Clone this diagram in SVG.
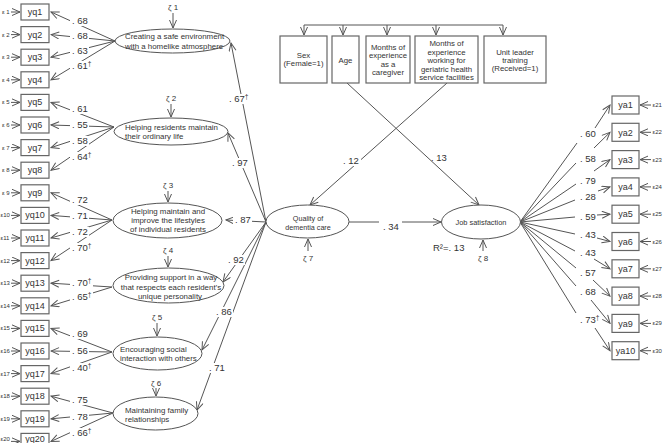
<svg xmlns="http://www.w3.org/2000/svg" width="665" height="443" viewBox="0 0 665 443">
<defs>
<marker id="ah" markerUnits="userSpaceOnUse" markerWidth="10" markerHeight="10" refX="9" refY="4" orient="auto"><path d="M1,0.5 L9,4 L1,7.5" fill="none" stroke="#555" stroke-width="1"/></marker>
<style>
text{font-family:"Liberation Sans",Arial,sans-serif;fill:#333}
.box{fill:#fff;stroke:#666;stroke-width:1.2}
.ell{fill:#fff;stroke:#555;stroke-width:1}
.c line{stroke:#555;stroke-width:1;fill:none}
.a{marker-end:url(#ah)}
.lb{font-size:9.5px}
.bg{fill:#fff}
.t8{font-size:7.9px}
.tm{font-size:7.8px;text-anchor:middle}
.v{font-size:9px;text-anchor:middle}
.e{font-size:6px}
.er{font-size:6px}
.z{font-size:8px;text-anchor:middle}
.m{text-anchor:middle}
.dg{font-size:6.5px}
</style>
</defs>
<rect width="665" height="443" fill="#fff"/>
<g id="connectors" class="c">
<line class="a" x1="115" y1="41" x2="51" y2="12"/>
<line class="a" x1="115" y1="41" x2="51" y2="34.6"/>
<line class="a" x1="115" y1="41" x2="51" y2="57.2"/>
<line class="a" x1="115" y1="41" x2="51" y2="79.8"/>
<line class="a" x1="114" y1="127" x2="51" y2="102.4"/>
<line class="a" x1="114" y1="127" x2="51" y2="125"/>
<line class="a" x1="114" y1="127" x2="51" y2="147.6"/>
<line class="a" x1="114" y1="127" x2="51" y2="170.2"/>
<line class="a" x1="112" y1="220" x2="51" y2="192.8"/>
<line class="a" x1="112" y1="220" x2="51" y2="215.4"/>
<line class="a" x1="112" y1="220" x2="51" y2="238"/>
<line class="a" x1="112" y1="220" x2="51" y2="260.6"/>
<line class="a" x1="112" y1="287" x2="51" y2="283.2"/>
<line class="a" x1="112" y1="287" x2="51" y2="305.8"/>
<line class="a" x1="112" y1="352" x2="51" y2="328.4"/>
<line class="a" x1="112" y1="352" x2="51" y2="351"/>
<line class="a" x1="112" y1="352" x2="51" y2="373.6"/>
<line class="a" x1="113" y1="413" x2="51" y2="396.2"/>
<line class="a" x1="113" y1="413" x2="51" y2="418.8"/>
<line class="a" x1="113" y1="413" x2="51" y2="441.4"/>
<line class="a" x1="11" y1="12" x2="20" y2="12"/>
<line class="a" x1="11" y1="34.6" x2="20" y2="34.6"/>
<line class="a" x1="11" y1="57.2" x2="20" y2="57.2"/>
<line class="a" x1="11" y1="79.8" x2="20" y2="79.8"/>
<line class="a" x1="11" y1="102.4" x2="20" y2="102.4"/>
<line class="a" x1="11" y1="125" x2="20" y2="125"/>
<line class="a" x1="11" y1="147.6" x2="20" y2="147.6"/>
<line class="a" x1="11" y1="170.2" x2="20" y2="170.2"/>
<line class="a" x1="11" y1="192.8" x2="20" y2="192.8"/>
<line class="a" x1="11" y1="215.4" x2="20" y2="215.4"/>
<line class="a" x1="11" y1="238" x2="20" y2="238"/>
<line class="a" x1="11" y1="260.6" x2="20" y2="260.6"/>
<line class="a" x1="11" y1="283.2" x2="20" y2="283.2"/>
<line class="a" x1="11" y1="305.8" x2="20" y2="305.8"/>
<line class="a" x1="11" y1="328.4" x2="20" y2="328.4"/>
<line class="a" x1="11" y1="351" x2="20" y2="351"/>
<line class="a" x1="11" y1="373.6" x2="20" y2="373.6"/>
<line class="a" x1="11" y1="396.2" x2="20" y2="396.2"/>
<line class="a" x1="11" y1="418.8" x2="20" y2="418.8"/>
<line class="a" x1="11" y1="441.4" x2="20" y2="441.4"/>
<line class="a" x1="173" y1="13" x2="173" y2="28"/>
<line class="a" x1="171" y1="104" x2="171" y2="117"/>
<line class="a" x1="168" y1="191" x2="168" y2="202"/>
<line class="a" x1="168" y1="256" x2="168" y2="267"/>
<line class="a" x1="157" y1="323" x2="157" y2="336"/>
<line class="a" x1="156" y1="388" x2="156" y2="396"/>
<line class="a" x1="308" y1="251" x2="308" y2="239"/>
<line class="a" x1="483" y1="251" x2="483" y2="240"/>
<line class="a" x1="266" y1="222" x2="231" y2="43"/>
<line class="a" x1="266" y1="222" x2="228" y2="133"/>
<line class="a" x1="266" y1="222" x2="226" y2="220"/>
<line class="a" x1="266" y1="222" x2="223" y2="282"/>
<line class="a" x1="266" y1="222" x2="202" y2="350"/>
<line class="a" x1="266" y1="222" x2="197" y2="410"/>
<line x1="304" y1="25" x2="503" y2="25"/>
<line class="a" x1="304" y1="25" x2="304" y2="35"/>
<line class="a" x1="343" y1="25" x2="343" y2="35"/>
<line class="a" x1="387" y1="25" x2="387" y2="35"/>
<line class="a" x1="436" y1="25" x2="436" y2="35"/>
<line class="a" x1="503" y1="25" x2="503" y2="35"/>
<line class="a" x1="347" y1="83" x2="479" y2="205"/>
<line class="a" x1="447" y1="83" x2="310" y2="205"/>
<line class="a" x1="349" y1="222" x2="441" y2="222"/>
<line x1="520" y1="222" x2="577" y2="143"/><line class="a" x1="595" y1="128" x2="610" y2="105"/>
<line x1="520" y1="222" x2="576" y2="163"/><line class="a" x1="594" y1="148" x2="610" y2="132.3"/>
<line x1="520" y1="222" x2="576" y2="184"/><line class="a" x1="594" y1="171" x2="610" y2="159.6"/>
<line x1="520" y1="222" x2="575" y2="200"/><line class="a" x1="598" y1="191" x2="610" y2="186.9"/>
<line x1="520" y1="222" x2="575" y2="217"/><line class="a" x1="597" y1="215" x2="610" y2="214.2"/>
<line x1="520" y1="222" x2="575" y2="234"/><line class="a" x1="597" y1="238" x2="610" y2="241.5"/>
<line x1="520" y1="222" x2="575" y2="251"/><line class="a" x1="594" y1="259" x2="610" y2="268.8"/>
<line x1="520" y1="222" x2="576" y2="268"/><line class="a" x1="593" y1="280" x2="610" y2="296.1"/>
<line x1="520" y1="222" x2="576" y2="286"/><line class="a" x1="591" y1="300" x2="610" y2="323.4"/>
<line x1="520" y1="222" x2="576" y2="313"/><line class="a" x1="595" y1="328" x2="610" y2="350.7"/>
<line class="a" x1="651" y1="105" x2="640" y2="105"/>
<line class="a" x1="651" y1="132.3" x2="640" y2="132.3"/>
<line class="a" x1="651" y1="159.6" x2="640" y2="159.6"/>
<line class="a" x1="651" y1="186.9" x2="640" y2="186.9"/>
<line class="a" x1="651" y1="214.2" x2="640" y2="214.2"/>
<line class="a" x1="651" y1="241.5" x2="640" y2="241.5"/>
<line class="a" x1="651" y1="268.8" x2="640" y2="268.8"/>
<line class="a" x1="651" y1="296.1" x2="640" y2="296.1"/>
<line class="a" x1="651" y1="323.4" x2="640" y2="323.4"/>
<line class="a" x1="651" y1="350.7" x2="640" y2="350.7"/>
</g>
<g id="yq-items">
<g id="yq1"><rect class="box" x="21" y="4" width="28" height="16"/><text class="v" x="35" y="15">yq1</text><text class="e" x="2" y="14">ε 1</text></g>
<g id="yq2"><rect class="box" x="21" y="26.6" width="28" height="16"/><text class="v" x="35" y="37.6">yq2</text><text class="e" x="2" y="36.6">ε 2</text></g>
<g id="yq3"><rect class="box" x="21" y="49.2" width="28" height="16"/><text class="v" x="35" y="60.2">yq3</text><text class="e" x="2" y="59.2">ε 3</text></g>
<g id="yq4"><rect class="box" x="21" y="71.8" width="28" height="16"/><text class="v" x="35" y="82.8">yq4</text><text class="e" x="2" y="81.8">ε 4</text></g>
<g id="yq5"><rect class="box" x="21" y="94.4" width="28" height="16"/><text class="v" x="35" y="105.4">yq5</text><text class="e" x="2" y="104.4">ε 5</text></g>
<g id="yq6"><rect class="box" x="21" y="117" width="28" height="16"/><text class="v" x="35" y="128">yq6</text><text class="e" x="2" y="127">ε 6</text></g>
<g id="yq7"><rect class="box" x="21" y="139.6" width="28" height="16"/><text class="v" x="35" y="150.6">yq7</text><text class="e" x="2" y="149.6">ε 7</text></g>
<g id="yq8"><rect class="box" x="21" y="162.2" width="28" height="16"/><text class="v" x="35" y="173.2">yq8</text><text class="e" x="2" y="172.2">ε 8</text></g>
<g id="yq9"><rect class="box" x="21" y="184.8" width="28" height="16"/><text class="v" x="35" y="195.8">yq9</text><text class="e" x="2" y="194.8">ε 9</text></g>
<g id="yq10"><rect class="box" x="21" y="207.4" width="28" height="16"/><text class="v" x="35" y="218.4">yq10</text><text class="e" x="0.5" y="217.4">ε10</text></g>
<g id="yq11"><rect class="box" x="21" y="230" width="28" height="16"/><text class="v" x="35" y="241">yq11</text><text class="e" x="0.5" y="240">ε11</text></g>
<g id="yq12"><rect class="box" x="21" y="252.6" width="28" height="16"/><text class="v" x="35" y="263.6">yq12</text><text class="e" x="0.5" y="262.6">ε12</text></g>
<g id="yq13"><rect class="box" x="21" y="275.2" width="28" height="16"/><text class="v" x="35" y="286.2">yq13</text><text class="e" x="0.5" y="285.2">ε13</text></g>
<g id="yq14"><rect class="box" x="21" y="297.8" width="28" height="16"/><text class="v" x="35" y="308.8">yq14</text><text class="e" x="0.5" y="307.8">ε14</text></g>
<g id="yq15"><rect class="box" x="21" y="320.4" width="28" height="16"/><text class="v" x="35" y="331.4">yq15</text><text class="e" x="0.5" y="330.4">ε15</text></g>
<g id="yq16"><rect class="box" x="21" y="343" width="28" height="16"/><text class="v" x="35" y="354">yq16</text><text class="e" x="0.5" y="353">ε16</text></g>
<g id="yq17"><rect class="box" x="21" y="365.6" width="28" height="16"/><text class="v" x="35" y="376.6">yq17</text><text class="e" x="0.5" y="375.6">ε17</text></g>
<g id="yq18"><rect class="box" x="21" y="388.2" width="28" height="16"/><text class="v" x="35" y="399.2">yq18</text><text class="e" x="0.5" y="398.2">ε18</text></g>
<g id="yq19"><rect class="box" x="21" y="410.8" width="28" height="16"/><text class="v" x="35" y="421.8">yq19</text><text class="e" x="0.5" y="420.8">ε19</text></g>
<g id="yq20"><rect class="box" x="21" y="433.4" width="28" height="16"/><text class="v" x="35" y="441.5">yq20</text><text class="e" x="0.5" y="441">ε20</text></g>
</g>
<g id="ya-items">
<g id="ya1"><rect class="box" x="612" y="96" width="27" height="18"/><text class="v" x="625.5" y="108.2">ya1</text><text class="er" x="652.5" y="107">ε21</text></g>
<g id="ya2"><rect class="box" x="612" y="123.3" width="27" height="18"/><text class="v" x="625.5" y="135.5">ya2</text><text class="er" x="652.5" y="134.3">ε22</text></g>
<g id="ya3"><rect class="box" x="612" y="150.6" width="27" height="18"/><text class="v" x="625.5" y="162.8">ya3</text><text class="er" x="652.5" y="161.6">ε23</text></g>
<g id="ya4"><rect class="box" x="612" y="177.9" width="27" height="18"/><text class="v" x="625.5" y="190.1">ya4</text><text class="er" x="652.5" y="188.9">ε24</text></g>
<g id="ya5"><rect class="box" x="612" y="205.2" width="27" height="18"/><text class="v" x="625.5" y="217.4">ya5</text><text class="er" x="652.5" y="216.2">ε25</text></g>
<g id="ya6"><rect class="box" x="612" y="232.5" width="27" height="18"/><text class="v" x="625.5" y="244.7">ya6</text><text class="er" x="652.5" y="243.5">ε26</text></g>
<g id="ya7"><rect class="box" x="612" y="259.8" width="27" height="18"/><text class="v" x="625.5" y="272">ya7</text><text class="er" x="652.5" y="270.8">ε27</text></g>
<g id="ya8"><rect class="box" x="612" y="287.1" width="27" height="18"/><text class="v" x="625.5" y="299.3">ya8</text><text class="er" x="652.5" y="298.1">ε28</text></g>
<g id="ya9"><rect class="box" x="612" y="314.4" width="27" height="18"/><text class="v" x="625.5" y="326.6">ya9</text><text class="er" x="652.5" y="325.4">ε29</text></g>
<g id="ya10"><rect class="box" x="612" y="341.7" width="27" height="18"/><text class="v" x="625.5" y="353.9">ya10</text><text class="er" x="652.5" y="352.7">ε30</text></g>
</g>
<g id="factors">
<g id="f1"><ellipse class="ell" cx="172.5" cy="41" rx="57.5" ry="12"/><text class="t8" x="125" y="39">Creating a safe environment</text><text class="t8" x="125" y="49">with a homelike atmosphere</text><text class="z" x="173" y="10">ζ 1</text></g>
<g id="f2"><ellipse class="ell" cx="171" cy="131.5" rx="57" ry="13.5"/><text class="t8" x="125" y="130">Helping residents maintain</text><text class="t8" x="125" y="139">their ordinary life</text><text class="z" x="171" y="101">ζ 2</text></g>
<g id="f3"><ellipse class="ell" cx="167.5" cy="220.5" rx="54.5" ry="17.5"/><text class="t8 m" x="168" y="214">Helping maintain and</text><text class="t8 m" x="168" y="223">improve the lifestyles</text><text class="t8 m" x="168" y="232">of individual residents</text><text class="z" x="168" y="188">ζ 3</text></g>
<g id="f4"><ellipse class="ell" cx="168.5" cy="285.5" rx="55.5" ry="17.5"/><text class="t8 m" x="171" y="280">Providing support in a way</text><text class="t8 m" x="171" y="290">that respects each resident’s</text><text class="t8 m" x="170" y="299">unique personality</text><text class="z" x="168" y="253">ζ 4</text></g>
<g id="f5"><ellipse class="ell" cx="157.5" cy="353.5" rx="44.5" ry="16.5"/><text class="t8" x="120" y="352">Encouraging social</text><text class="t8" x="120" y="361">interaction with others</text><text class="z" x="157" y="320">ζ 5</text></g>
<g id="f6"><ellipse class="ell" cx="155.5" cy="413.5" rx="42.5" ry="16.5"/><text class="t8" x="125" y="413">Maintaining family</text><text class="t8" x="125" y="422">relationships</text><text class="z" x="156" y="386">ζ 6</text></g>
<g id="quality"><ellipse class="ell" cx="307.5" cy="221.5" rx="41.5" ry="16.5"/><text class="m" style="font-size:7.2px" x="308" y="220.5">Quality of</text><text class="m" style="font-size:7.2px" x="308" y="229.5">dementia care</text><text class="z" x="308" y="261">ζ 7</text></g>
<g id="job"><ellipse class="ell" cx="481" cy="222" rx="39.5" ry="17"/><text class="m" style="font-size:7.4px" x="481" y="225">Job satisfaction</text><text class="z" x="483" y="261">ζ 8</text><text class="lb" x="433" y="250.5">R²=. 13</text></g>
</g>
<g id="covariates">
<g id="sex"><rect class="box" x="280" y="36" width="47" height="47"/><text class="tm" x="303.5" y="57.5">Sex</text><text class="tm" x="303.5" y="66">(Female=1)</text></g>
<g id="age"><rect class="box" x="332" y="36" width="27" height="47"/><text class="tm" x="345.5" y="63">Age</text></g>
<g id="caregiver"><rect class="box" x="366" y="36" width="44" height="47"/><text class="tm" x="388" y="50">Months of</text><text class="tm" x="388" y="58.3">experience</text><text class="tm" x="388" y="66.6">as a</text><text class="tm" x="388" y="75">caregiver</text></g>
<g id="geriatric"><rect class="box" x="415" y="36" width="63" height="47"/><text class="tm" x="446.5" y="46">Months of</text><text class="tm" x="446.5" y="54.5">experience</text><text class="tm" x="446.5" y="63">working for</text><text class="tm" x="446.5" y="71.5">geriatric health</text><text class="tm" x="446.5" y="80">service facilities</text></g>
<g id="leader"><rect class="box" x="484" y="36" width="62" height="47"/><text class="tm" x="515" y="55">Unit leader</text><text class="tm" x="515" y="63">training</text><text class="tm" x="515" y="71">(Received=1)</text></g>
</g>
<g id="labels">
<rect class="bg" x="70" y="16" width="19" height="10"/><text class="lb" x="72" y="24.4">. 68</text>
<rect class="bg" x="70" y="31" width="19" height="10"/><text class="lb" x="72" y="39.4">. 68</text>
<rect class="bg" x="70" y="46" width="19" height="10"/><text class="lb" x="72" y="54.4">. 63</text>
<rect class="bg" x="70" y="61" width="23" height="10"/><text class="lb" x="72" y="69.4">. 61<tspan class="dg" dy="-3">†</tspan></text>
<rect class="bg" x="70" y="104" width="19" height="10"/><text class="lb" x="72" y="112.4">. 61</text>
<rect class="bg" x="70" y="120" width="19" height="10"/><text class="lb" x="72" y="128.4">. 55</text>
<rect class="bg" x="70" y="136" width="19" height="10"/><text class="lb" x="72" y="144.4">. 58</text>
<rect class="bg" x="70" y="152" width="23" height="10"/><text class="lb" x="72" y="160.4">. 64<tspan class="dg" dy="-3">†</tspan></text>
<rect class="bg" x="70" y="195" width="19" height="10"/><text class="lb" x="72" y="203.4">. 72</text>
<rect class="bg" x="70" y="211" width="19" height="10"/><text class="lb" x="72" y="219.4">. 71</text>
<rect class="bg" x="70" y="227" width="19" height="10"/><text class="lb" x="72" y="235.4">. 72</text>
<rect class="bg" x="70" y="243" width="23" height="10"/><text class="lb" x="72" y="251.4">. 70<tspan class="dg" dy="-3">†</tspan></text>
<rect class="bg" x="70" y="278" width="23" height="10"/><text class="lb" x="72" y="286.4">. 70<tspan class="dg" dy="-3">†</tspan></text>
<rect class="bg" x="70" y="292" width="23" height="10"/><text class="lb" x="72" y="300.4">. 65<tspan class="dg" dy="-3">†</tspan></text>
<rect class="bg" x="70" y="329" width="19" height="10"/><text class="lb" x="72" y="337.4">. 69</text>
<rect class="bg" x="70" y="346" width="19" height="10"/><text class="lb" x="72" y="354.4">. 56</text>
<rect class="bg" x="70" y="363" width="23" height="10"/><text class="lb" x="72" y="371.4">. 40<tspan class="dg" dy="-3">†</tspan></text>
<rect class="bg" x="70" y="395" width="19" height="10"/><text class="lb" x="72" y="403.4">. 75</text>
<rect class="bg" x="70" y="412" width="19" height="10"/><text class="lb" x="72" y="420.4">. 78</text>
<rect class="bg" x="70" y="428" width="23" height="10"/><text class="lb" x="72" y="436.4">. 66<tspan class="dg" dy="-3">†</tspan></text>
<rect class="bg" x="227" y="94" width="23" height="10"/><text class="lb" x="229" y="102.4">. 67<tspan class="dg" dy="-3">†</tspan></text>
<rect class="bg" x="230" y="158" width="19" height="10"/><text class="lb" x="232" y="166.4">. 97</text>
<rect class="bg" x="233" y="215" width="19" height="10"/><text class="lb" x="235" y="223.4">. 87</text>
<rect class="bg" x="226" y="255" width="19" height="10"/><text class="lb" x="228" y="263.4">. 92</text>
<rect class="bg" x="214" y="307" width="19" height="10"/><text class="lb" x="216" y="315.4">. 86</text>
<rect class="bg" x="207" y="363" width="19" height="10"/><text class="lb" x="209" y="371.4">. 71</text>
<rect class="bg" x="342" y="156" width="19" height="10"/><text class="lb" x="343" y="164.4">. 12</text>
<text class="lb" x="431" y="161.4">. 13</text>
<rect class="bg" x="379" y="217" width="23" height="12"/><text class="lb" x="383" y="230.4">. 34</text>
<text class="lb" x="580" y="137.4">. 60</text>
<text class="lb" x="580" y="162.4">. 58</text>
<text class="lb" x="580" y="184.4">. 79</text>
<text class="lb" x="580" y="200.4">. 28</text>
<text class="lb" x="580" y="220.4">. 59</text>
<text class="lb" x="580" y="238.4">. 43</text>
<text class="lb" x="580" y="256.4">. 43</text>
<text class="lb" x="580" y="276.4">. 57</text>
<text class="lb" x="580" y="295.4">. 68</text>
<text class="lb" x="580" y="323.4">. 73<tspan class="dg" dy="-3">†</tspan></text>
</g>
</svg>
